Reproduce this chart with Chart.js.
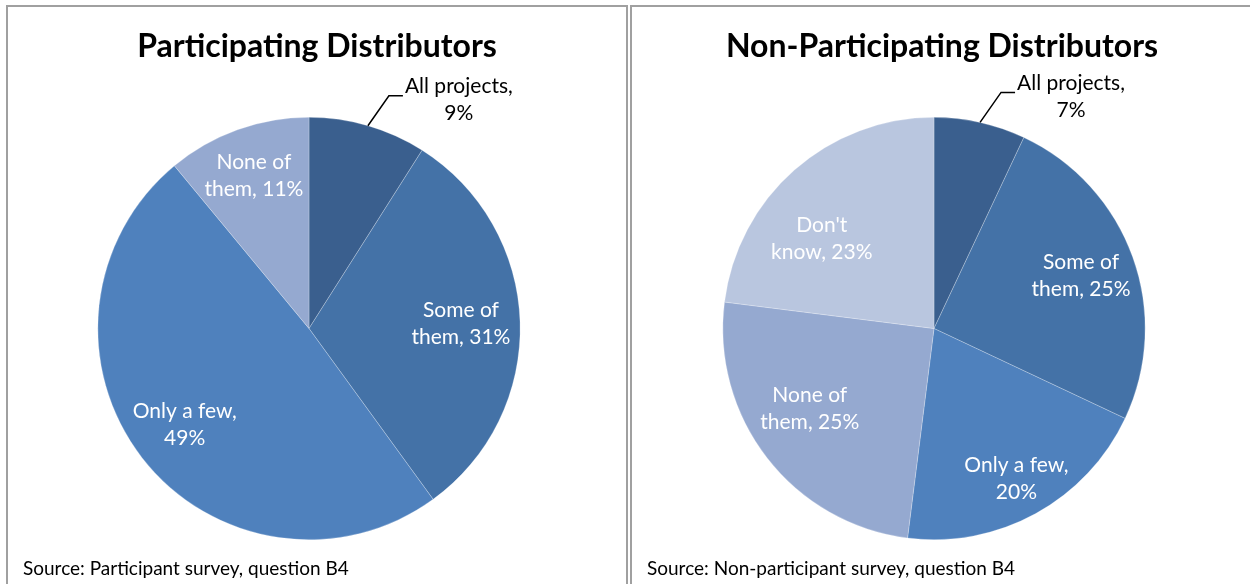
<!DOCTYPE html>
<html>
<head>
<meta charset="utf-8">
<script src="https://cdn.jsdelivr.net/npm/chart.js@4.4.1/dist/chart.umd.min.js"></script>
<style>
  html, body { margin: 0; padding: 0; background: #fff; }
  body { width: 1250px; height: 584px; overflow: hidden; position: relative; font-family: Lato, "Open Sans", sans-serif; }
  .panel { position: absolute; top: 5px; height: 640px; border: 2px solid #a0a0a0; background: #fff; }
  #panel-left { left: 6px; width: 618px; }
  #panel-right { left: 630px; width: 620px; }
  .title { position: absolute; left: 0; right: 0; top: 21px; line-height: 34px; text-align: center; font-weight: bold; font-size: 32px; color: #000; }
  .source { position: absolute; left: 15px; top: 551px; line-height: 20px; font-size: 19px; color: #000; white-space: nowrap; }
  .chart-box { position: absolute; left: 0; top: 0; height: 577px; }
</style>
</head>
<body>
<div class="panel" id="panel-left">
  <div class="chart-box" style="width:618px"><canvas id="chart-left"></canvas></div>
  <div class="title">Participating Distributors</div>
  <div class="source">Source: Participant survey, question B4</div>
</div>
<div class="panel" id="panel-right">
  <div class="chart-box" style="width:620px"><canvas id="chart-right"></canvas></div>
  <div class="title">Non-Participating Distributors</div>
  <div class="source">Source: Non-participant survey, question B4</div>
</div>
<script>
// Participating distributors (percent of respondents)
const partCategories = ['All projects', 'Some of them', 'Only a few', 'None of them'];
const partValues = [9, 31, 49, 11];

// Non-participating distributors
const nonCategories = ['All projects', 'Some of them', 'Only a few', 'None of them', "Don't know"];
const nonValues = [7, 25, 20, 25, 23];

// label styling: words kept on the first line, radial distance (x radius), angle nudge (deg)
const partWrap = [2, 2, 3, 2];
const partLabelDist = [1, 0.72, 0.745, 0.77];
const partLabelTurn = [0, 0, 0, 0];
const nonWrap = [2, 2, 3, 2, 1];
const nonLabelDist = [1, 0.74, 0.81, 0.70, 0.68];
const nonLabelTurn = [0, 0, 0, 5, -10];

const sliceColors = ['#3A5F8E', '#4472A7', '#4F81BD', '#95A9D0', '#B9C6DF'];
const labelFont = '21px Lato, "Open Sans", sans-serif';

// Draws Excel-style data labels, placed from each arc element's geometry
const sliceLabels = {
  id: 'sliceLabels',
  afterDatasetsDraw(chart, args, opts) {
    const ctx = chart.ctx;
    const meta = chart.getDatasetMeta(0);
    const names = chart.data.labels;
    const values = chart.data.datasets[0].data;
    ctx.save();
    ctx.font = labelFont;
    ctx.textAlign = 'center';
    ctx.textBaseline = 'middle';
    meta.data.forEach((arc, i) => {
      const p = arc.getProps(['x', 'y', 'startAngle', 'endAngle', 'outerRadius'], true);
      const mid = (p.startAngle + p.endAngle) / 2;
      const words = `${names[i]}, ${values[i]}%`.split(' ');
      const lines = [words.slice(0, opts.wrap[i]).join(' '), words.slice(opts.wrap[i]).join(' ')];
      const lineH = 27;

      if (i === 0) {
        // small first slice: label sits outside with a leader line
        const ex = p.x + Math.cos(mid) * p.outerRadius;
        const ey = p.y + Math.sin(mid) * p.outerRadius;
        const bx = ex + 21, by = ey - 30;
        const endX = bx + 14;
        ctx.strokeStyle = '#000';
        ctx.lineWidth = 1.5;
        ctx.beginPath();
        ctx.moveTo(ex, ey);
        ctx.lineTo(bx, by);
        ctx.lineTo(endX, by);
        ctx.stroke();
        const w = Math.max(...lines.map(l => ctx.measureText(l).width));
        const cx = endX + 2 + w / 2;
        ctx.fillStyle = '#000';
        ctx.fillText(lines[0], cx, by - 9);
        ctx.fillText(lines[1], cx, by - 9 + lineH);
      } else {
        const a = mid + opts.turn[i] * Math.PI / 180;
        const r = p.outerRadius * opts.dist[i];
        const cx = p.x + Math.cos(a) * r;
        const cy = p.y + Math.sin(a) * r;
        ctx.fillStyle = '#fff';
        ctx.fillText(lines[0], cx, cy - lineH / 2);
        ctx.fillText(lines[1], cx, cy + lineH / 2);
      }
    });
    ctx.restore();
  }
};

function makePie(id, categories, values, wrap, dist, turn) {
  return new Chart(document.getElementById(id), {
    type: 'pie',
    data: {
      labels: categories,
      datasets: [{
        data: values,
        backgroundColor: sliceColors.slice(0, values.length),
        borderColor: 'rgba(255,255,255,0.35)',
        borderWidth: 0.7
      }]
    },
    options: {
      responsive: true,
      maintainAspectRatio: false,
      animation: false,
      layout: { padding: { top: 110, bottom: 44, left: 0, right: 16 } },
      plugins: {
        legend: { display: false },
        tooltip: { enabled: false },
        sliceLabels: { wrap: wrap, dist: dist, turn: turn }
      }
    },
    plugins: [sliceLabels]
  });
}

makePie('chart-left', partCategories, partValues, partWrap, partLabelDist, partLabelTurn);
makePie('chart-right', nonCategories, nonValues, nonWrap, nonLabelDist, nonLabelTurn);
</script>
</body>
</html>
